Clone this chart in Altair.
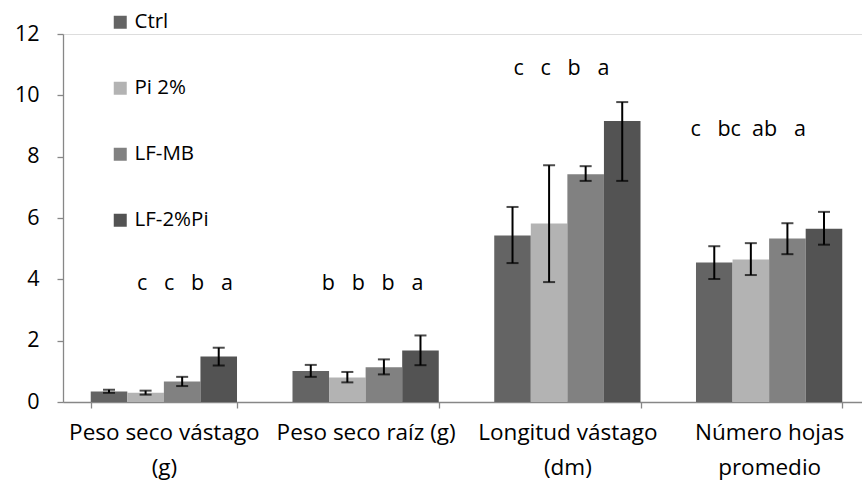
import altair as alt
import pandas as pd

# Categories (axis labels use "|" as the line-break marker)
categories = [
    "Peso seco vástago|(g)",
    "Peso seco raíz (g)",
    "Longitud vástago|(dm)",
    "Número hojas|promedio",
]
treatments = ["Ctrl", "Pi 2%", "LF-MB", "LF-2%Pi"]

# Means per treatment, one value per category
ctrl = [0.34, 1.01, 5.43, 4.55]
pi2 = [0.30, 0.80, 5.82, 4.65]
lfmb = [0.67, 1.13, 7.43, 5.33]
lf2pi = [1.48, 1.68, 9.16, 5.65]

# Error bar ends (lower / upper) per treatment
ctrl_lo = [0.30, 0.82, 4.53, 4.01]
ctrl_hi = [0.40, 1.21, 6.36, 5.08]
pi2_lo = [0.24, 0.64, 3.91, 4.14]
pi2_hi = [0.37, 0.98, 7.72, 5.18]
lfmb_lo = [0.52, 0.90, 7.21, 4.82]
lfmb_hi = [0.82, 1.39, 7.69, 5.83]
lf2pi_lo = [1.19, 1.20, 7.21, 5.13]
lf2pi_hi = [1.77, 2.17, 9.78, 6.20]

# Significance letters per category (Ctrl, Pi 2%, LF-MB, LF-2%Pi)
letters = [
    ["c", "c", "b", "a"],
    ["b", "b", "b", "a"],
    ["c", "c", "b", "a"],
    ["c", "bc", "ab", "a"],
]
letter_height = [3.86, 3.85, 10.87, 8.86]

# Styling
colors = ["#646464", "#b3b3b3", "#818181", "#535353"]
letter_dx = [21, 7, -6, -21]
FONT = "Open Sans"
AXIS_GRAY = "#878787"

means = [ctrl, pi2, lfmb, lf2pi]
lows = [ctrl_lo, pi2_lo, lfmb_lo, lf2pi_lo]
highs = [ctrl_hi, pi2_hi, lfmb_hi, lf2pi_hi]

rows = []
for t, m, lo, hi in zip(treatments, means, lows, highs):
    for c, v, a, b in zip(categories, m, lo, hi):
        rows.append({"category": c, "treatment": t, "value": v, "lo": a, "hi": b})
df = pd.DataFrame(rows)


def spaced(tokens):
    # non-breaking spaces keep the letter spacing in SVG text
    out = tokens[0]
    for prev, cur in zip(tokens, tokens[1:]):
        n = 2 if (len(prev) > 1 and len(cur) > 1) else 3
        out += "\u00a0" * n + cur
    return out


letters_df = pd.DataFrame({
    "category": categories,
    "letters": [spaced(l) for l in letters],
    "height": letter_height,
})

x_enc = alt.X(
    "category:N",
    sort=categories,
    scale=alt.Scale(range=[0, 807], paddingInner=0.275, paddingOuter=0.1375),
    axis=alt.Axis(
        title=None,
        labelAngle=0,
        labelExpr="split(datum.label, '|')",
        labelLineHeight=35,
        labelFontSize=22.5,
        labelFont=FONT,
        labelColor="black",
        labelLimit=400,
        labelPadding=13,
        tickBand="extent",
        tickSize=6,
        tickColor=AXIS_GRAY,
        domainColor=AXIS_GRAY,
        domainWidth=1.3,
        tickWidth=1.3,
    ),
)
x_off = alt.XOffset("treatment:N", sort=treatments, scale=alt.Scale(paddingInner=0, paddingOuter=0))

y_scale = alt.Scale(domain=[0, 12], nice=False)

bars = alt.Chart(df).mark_bar().encode(
    x=x_enc,
    xOffset=x_off,
    y=alt.Y(
        "value:Q",
        scale=y_scale,
        axis=alt.Axis(
            title=None,
            values=[0, 2, 4, 6, 8, 10, 12],
            grid=False,
            labelFontSize=21.5,
            labelFont=FONT,
            labelColor="black",
            labelPadding=18,
            tickSize=6,
            tickColor=AXIS_GRAY,
            domainColor=AXIS_GRAY,
            domainWidth=1.3,
            tickWidth=1.3,
        ),
    ),
    color=alt.Color(
        "treatment:N",
        sort=treatments,
        scale=alt.Scale(domain=treatments, range=colors),
        legend=alt.Legend(
            title=None,
            orient="none",
            legendX=47,
            legendY=-22,
            direction="vertical",
            symbolType="square",
            symbolSize=169,
            symbolStrokeWidth=0,
            labelFontSize=20.5,
            labelFont=FONT,
            labelColor="black",
            labelOffset=4,
            rowPadding=45,
        ),
    ),
)

err_rule = alt.Chart(df).mark_rule(color="black", strokeWidth=2).encode(
    x=alt.X("category:N", sort=categories),
    xOffset=x_off,
    y=alt.Y("lo:Q", scale=y_scale),
    y2="hi:Q",
)

cap_lo = alt.Chart(df).mark_tick(color="black", thickness=2, size=12).encode(
    x=alt.X("category:N", sort=categories),
    xOffset=x_off,
    y=alt.Y("lo:Q", scale=y_scale),
)
cap_hi = alt.Chart(df).mark_tick(color="black", thickness=2, size=12).encode(
    x=alt.X("category:N", sort=categories),
    xOffset=x_off,
    y=alt.Y("hi:Q", scale=y_scale),
)

letter_layers = []
for i, c in enumerate(categories):
    letter_layers.append(
        alt.Chart(letters_df)
        .transform_filter(alt.datum.category == c)
        .mark_text(font=FONT, fontSize=21.5, color="black", dx=letter_dx[i], baseline="middle")
        .encode(
            x=alt.X("category:N", sort=categories),
            y=alt.Y("height:Q", scale=y_scale),
            text="letters:N",
        )
    )

chart = (
    alt.layer(bars, err_rule, cap_lo, cap_hi, *letter_layers)
    .properties(
        width=799,
        height=368,
        autosize=alt.AutoSizeParams(type="none"),
        padding={"left": 63, "top": 34, "right": 0, "bottom": 78},
    )
    .configure_view(stroke=None)
    .configure(font=FONT, background="white")
)

chart.save("out.html", embed_options={"renderer": "svg", "actions": False})
